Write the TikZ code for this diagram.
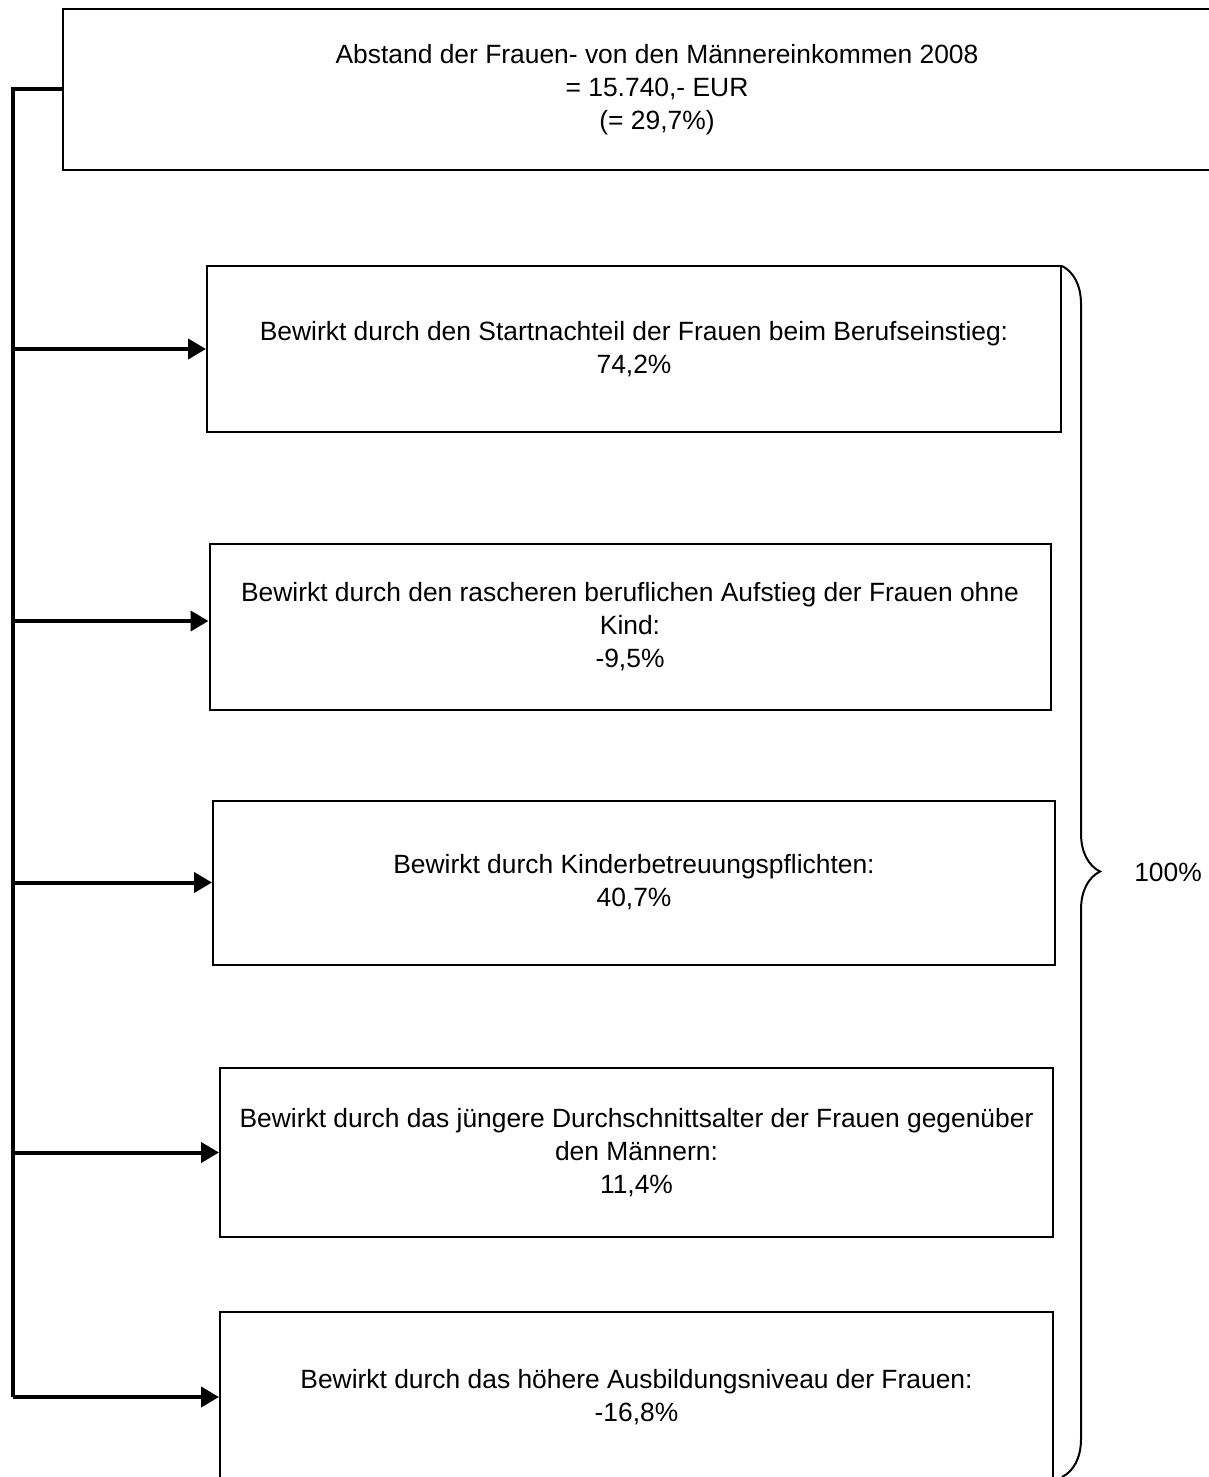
\documentclass[tikz,border=0pt]{standalone}
\usepackage{fontspec}
\setmainfont{Liberation Sans}
\usetikzlibrary{calc}
\usetikzlibrary{arrows.meta,decorations.pathreplacing}

\tikzset{
	kasten/.style={draw, line width=1pt, rectangle, align=center, inner sep=0pt},
	pfeil/.style={line width=2pt, -{Triangle[length=9pt,width=10pt]}},
	schrift/.style={font=\fontsize{13.2}{16.5}\selectfont}
}

\begin{document}
\begin{tikzpicture}[x=0.5pt, y=-0.5pt, schrift]
			\useasboundingbox (0,0) rectangle (1209,1477);

			\node[kasten, minimum width=594pt, minimum height=80.5pt] (abstand) at (657,89.5) {Abstand der Frauen- von den Männereinkommen 2008\\= 15.740,- EUR\\(= 29,7\%)};

			\node[kasten, minimum width=427pt, minimum height=83pt] (start) at (634,349) {Bewirkt durch den Startnachteil der Frauen beim Berufseinstieg:\\74,2\%};
			\node[kasten, minimum width=420.5pt, minimum height=83pt] (aufstieg) at (630,627) {Bewirkt durch den rascheren beruflichen Aufstieg der Frauen ohne\\Kind:\\-9,5\%};
			\node[kasten, minimum width=421pt, minimum height=82pt] (kinder) at (634,882.5) {Bewirkt durch Kinderbetreuungspflichten:\\40,7\%};
			\node[kasten, minimum width=416.5pt, minimum height=84.5pt] (alter) at (636.5,1152.5) {Bewirkt durch das jüngere Durchschnittsalter der Frauen gegenüber\\den Männern:\\11,4\%};
			\node[kasten, minimum width=416.5pt, minimum height=85pt] (bildung) at (636.5,1397) {Bewirkt durch das höhere Ausbildungsniveau der Frauen:\\-16,8\%};

			\coordinate (ecke) at (13,89.5);
			\coordinate (ende) at (13,1397);
			\coordinate (klammeroben) at (1062,266);
			\coordinate (klammerunten) at (1062,1477);
			\node (summe) at (1168,872) {100\%};

			%Verbindungen
			\draw[line width=2pt] (abstand.west) -- (ecke) -- (ende);
			\draw[pfeil] (ecke |- start.west) -- (start.west);
			\draw[pfeil] ($(ecke |- aufstieg.west)+(0,-6)$) -- ($(aufstieg.west)+(0,-6)$);
			\draw[pfeil] (ecke |- kinder.west) -- (kinder.west);
			\draw[pfeil] (ecke |- alter.west) -- (alter.west);
			\draw[pfeil] (ende) -- (bildung.west);

			\draw[line width=1pt, decorate, decoration={brace, amplitude=19pt}] (klammeroben) -- (klammerunten);

		\end{tikzpicture}
\end{document}
